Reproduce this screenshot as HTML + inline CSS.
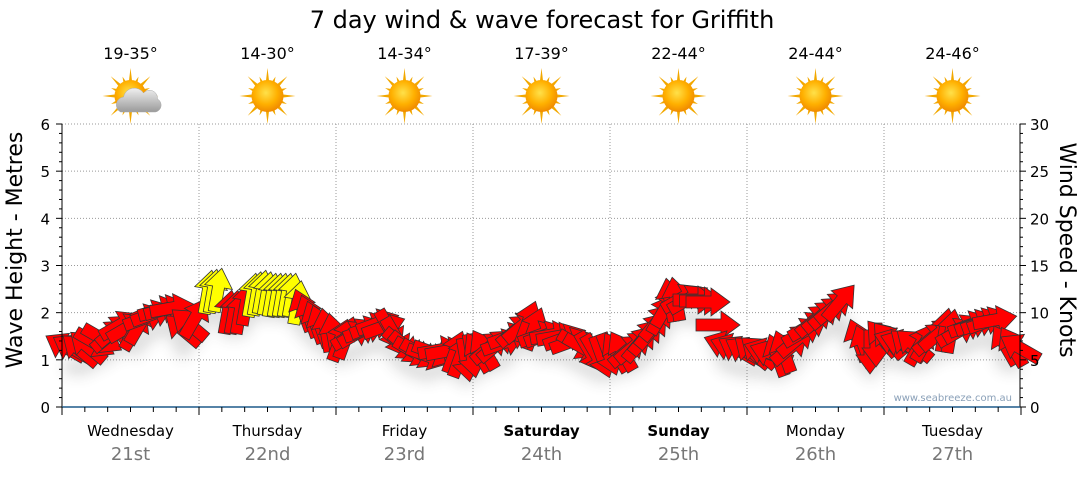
<!DOCTYPE html>
<html><head><meta charset="utf-8"><style>
body{margin:0;background:#fff;font-family:"Liberation Sans","DejaVu Sans",sans-serif}
svg text{font-family:"DejaVu Sans","Liberation Sans",sans-serif}
</style></head><body>
<svg id="s" width="1080" height="475" xmlns="http://www.w3.org/2000/svg">
<defs>
<radialGradient id="sun" cx="45%" cy="40%" r="60%"><stop offset="0" stop-color="#ffe14a"/><stop offset="0.6" stop-color="#ffb000"/><stop offset="1" stop-color="#f08a00"/></radialGradient>
<linearGradient id="cl" x1="0" y1="0" x2="0" y2="1"><stop offset="0" stop-color="#f0f0f0"/><stop offset="1" stop-color="#9a9a9a"/></linearGradient>
<filter id="bl" x="-20%" y="-50%" width="140%" height="200%"><feGaussianBlur stdDeviation="7"/></filter>
</defs>
<text x="542" y="28" font-size="24" text-anchor="middle" fill="#000">7 day wind &amp; wave forecast for Griffith</text>
<g id="top"></g>
<g id="grid"></g>
<g id="shadow" filter="url(#bl)" opacity="0.18"></g>
<g id="arrows"></g>
<g id="axes"></g>
<text x="1012" y="401" font-size="10" fill="#8aa0b8" text-anchor="end">www.seabreeze.com.au</text>
<text transform="translate(22,250) rotate(-90)" font-size="22" text-anchor="middle">Wave Height - Metres</text>
<text transform="translate(1060,250) rotate(90)" font-size="22" text-anchor="middle">Wind Speed - Knots</text>
</svg>
<script>
const NS="http://www.w3.org/2000/svg";
function el(p,t,a,txt){const e=document.createElementNS(NS,t);for(const k in a)e.setAttribute(k,a[k]);if(txt!==undefined)e.textContent=txt;p.appendChild(e);return e;}
const X0=62,X1=1020,Y0=407,YT=124,DW=137;
const g=document.getElementById('grid'),ax=document.getElementById('axes'),top_=document.getElementById('top');
for(let i=1;i<=6;i++){const y=Y0-i*(Y0-YT)/6;el(g,'line',{x1:X0,x2:X1,y1:y,y2:y,stroke:'#999','stroke-dasharray':'1,2'});}
for(let d=1;d<7;d++){const x=X0+d*DW;el(g,'line',{x1:x,x2:x,y1:YT,y2:Y0,stroke:'#999','stroke-dasharray':'1,2'});}
el(ax,'line',{x1:X0,x2:X0,y1:YT,y2:Y0,stroke:'#000'});
el(ax,'line',{x1:X1,x2:X1,y1:YT,y2:Y0,stroke:'#000'});
el(ax,'line',{x1:X0,x2:X1,y1:Y0,y2:Y0,stroke:'#1f5a8a','stroke-width':1.5});
for(let i=0;i<=30;i++){const y=Y0-i*(Y0-YT)/30;const big=i%5==0;
 el(ax,'line',{x1:X0-(big?6:3),x2:X0,y1:y,y2:y,stroke:'#000'});
 el(ax,'line',{x1:X1,x2:X1+(big?6:3),y1:y,y2:y,stroke:'#000'});
 if(big){el(ax,'text',{x:X0-12,y:y+6,'font-size':15,'text-anchor':'end'},String(i/5));
  el(ax,'text',{x:X1+10,y:y+6,'font-size':15},String(i));}}
for(let i=0;i<=42;i++){const x=X0+i*DW/6;el(ax,'line',{x1:x,x2:x,y1:Y0,y2:Y0+(i%6==0?8:5),stroke:'#000'});}
const days=[["Wednesday","21st",0],["Thursday","22nd",0],["Friday","23rd",0],["Saturday","24th",1],["Sunday","25th",1],["Monday","26th",0],["Tuesday","27th",0]];
const temps=["19-35°","14-30°","14-34°","17-39°","22-44°","24-44°","24-46°"];
days.forEach((d,i)=>{const cx=X0+i*DW+DW/2;
 el(ax,'text',{x:cx,y:436,'font-size':15,'text-anchor':'middle','font-weight':d[2]?'bold':'normal'},d[0]);
 el(ax,'text',{x:cx,y:460,'font-size':18,'text-anchor':'middle',fill:'#777'},d[1]);
 el(top_,'text',{x:cx,y:59,'font-size':16,'text-anchor':'middle'},temps[i]);
 const sy=96;const sg=el(top_,'g',{});
 for(let k=0;k<16;k++){const a=k*Math.PI/8,L=(k%2?21:28),w=0.14;
  const p=[[cx+Math.cos(a-w)*13,sy+Math.sin(a-w)*13],[cx+Math.cos(a)*L,sy+Math.sin(a)*L],[cx+Math.cos(a+w)*13,sy+Math.sin(a+w)*13]];
  el(sg,'polygon',{points:p.map(q=>q.join(',')).join(' '),fill:'#f2a800'});}
 el(sg,'circle',{cx:cx,cy:sy,r:16,fill:'url(#sun)'});
 if(i==0){el(sg,'path',{d:`M${cx-10},${sy+16} a8,8 0 0 1 3,-15 a11,11 0 0 1 20,-4 a8,8 0 0 1 14,6 a7,7 0 0 1 -2,13 z`,fill:'url(#cl)',stroke:'#aaa','stroke-width':0.5});}
});
const K=[
[65,347,-150],[80,350,-140],[95,343,30],[110,335,-40],[120,325,-30],[135,330,-60],[145,318,-20],[160,310,-15],[172,308,-10],[183,330,-140],[195,318,-60],
[208,292,-80,'y'],[218,290,-80,'y'],[228,312,-80],[240,312,-80],[252,295,-80,'y'],[262,292,-80,'y'],[272,295,-80,'y'],[282,295,-80,'y'],[292,295,-80,'y'],[303,310,-110],[315,322,-110],[326,330,-100],
[340,340,-70],[352,335,-30],[365,330,-20],[378,323,-20],[390,330,60],[402,345,40],[414,352,30],[428,356,20],[440,350,-10],[455,352,-70],[466,360,80],
[478,352,-120],[490,347,-40],[503,343,-20],[516,330,-40],[528,322,-70],[540,335,-20],[552,335,-10],[565,338,-20],[578,345,30],[590,352,60],[602,357,70],
[616,352,-120],[628,350,-40],[640,343,-50],[652,330,-50],[662,314,-60],[670,300,-100],[682,298,-30],[695,300,0],[708,302,0],[718,325,0],
[725,345,-160],[738,350,-150],[752,352,-140],[765,352,-160],[777,355,-110],[790,348,-40],[803,332,-30],[815,320,-40],[828,312,-40],[840,302,-50],
[858,340,-110],[870,352,90],[882,338,-130],[895,342,-160],[908,345,-140],[920,345,-60],[932,338,-40],[945,330,-80],[957,332,-30],[970,325,-20],[983,322,-20],[995,320,-10],[1005,345,-120],[1020,348,-150]
];
const A=document.getElementById('arrows'),S=document.getElementById('shadow');
let sp='';
K.forEach((k,i)=>{sp+=(i?'L':'M')+k[0]+','+(k[1]+18);});
el(S,'path',{d:sp,stroke:'#444','stroke-width':16,fill:'none'});
const pts=[[-22,-6],[3,-6],[3,-14],[22,0],[3,14],[3,6],[-22,6]];
function draw(x,y,a,c){el(A,'polygon',{points:pts.map(p=>p.join(',')).join(' '),transform:`translate(${x},${y}) rotate(${a})`,fill:c=='y'?'#ffff00':'#ff0000',stroke:'#333','stroke-width':0.8});}
for(let i=0;i<K.length;i++){const [x,y,a,c]=K[i];draw(x,y,a,c);
 if(i<K.length-1){const n=K[i+1];if(Math.abs(n[0]-x)<20&&Math.abs(n[1]-y)<20)draw((x+n[0])/2,(y+n[1])/2,a,c);}}
</script>
</body></html>
